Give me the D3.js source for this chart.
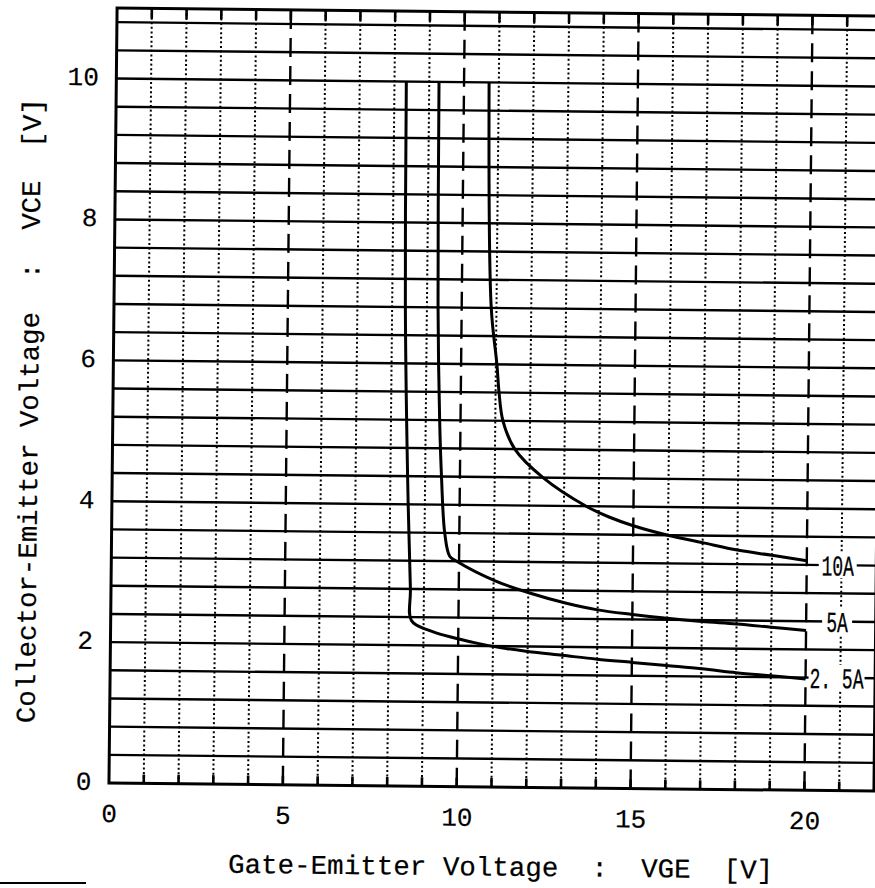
<!DOCTYPE html>
<html><head><meta charset="utf-8">
<script src="https://cdn.jsdelivr.net/npm/d3@7"></script>
<style>html,body{margin:0;padding:0;background:#fff;}svg{display:block;}</style>
</head><body>
<svg id="chart" width="875" height="888"></svg>
<script>
// ---- data ----
const xTicks = [0, 5, 10, 15, 20];
const yTicks = [0, 2, 4, 6, 8, 10];
const seriesLabels = ["10A", "5A", "2. 5A"];
const labelLevels = [3.2, 2.4, 1.6];

const vge10A = [10.72, 10.85, 11.03, 11.10, 11.22, 11.57, 12.39, 13.64, 14.3, 15.0, 16.0, 17.0, 18.0, 19.0, 20.0];
const vce10A = [10.0, 6.8, 6.0, 5.6, 5.2, 4.8, 4.4, 4.0, 3.85, 3.73, 3.6, 3.5, 3.4, 3.33, 3.26];

const vge5A = [9.28, 9.32, 9.40, 9.47, 9.58, 9.73, 9.93, 11.08, 12.04, 13.1, 14.0, 15.0, 16.0, 17.0, 18.0, 19.0, 20.0];
const vce5A = [10.0, 6.8, 5.2, 4.4, 3.6, 3.27, 3.2, 2.92, 2.76, 2.62, 2.53, 2.47, 2.42, 2.38, 2.35, 2.31, 2.27];

const vge2p5A = [8.34, 8.38, 8.52, 8.61, 8.65, 9.18, 10.43, 11.2, 12.0, 13.0, 14.0, 15.0, 16.0, 17.0, 18.0, 19.0, 20.0];
const vce2p5A = [10.0, 6.8, 4.0, 2.8, 2.35, 2.21, 2.05, 1.98, 1.93, 1.88, 1.83, 1.79, 1.75, 1.71, 1.66, 1.62, 1.58];

const xTitle = "Gate-Emitter Voltage  :  VGE  [V]";
const yTitle = "Collector-Emitter Voltage  :  VCE  [V]";

// ---- drawing ----
const FONT = "'Liberation Mono', 'DejaVu Sans Mono', monospace";
const svg = d3.select("#chart");
svg.append("rect").attr("width", 875).attr("height", 888).attr("fill", "#fff");
const g = svg.append("g").attr("transform", "rotate(0.6,490,400)");

const x = d3.scaleLinear().domain([0, 22]).range([113, 878]);
const y = d3.scaleLinear().domain([0, 11]).range([787, 12]);

// horizontal grid every 0.4 V
const hLevels = d3.range(1, 28).map(i => Math.round(i * 4) / 10);
g.append("g").selectAll("line").data(hLevels).join("line")
  .attr("x1", x(0)).attr("x2", x(22))
  .attr("y1", d => y(d)).attr("y2", d => y(d))
  .attr("stroke", "#000").attr("stroke-width", 2.4);

// vertical grid every 1 V
const vLevels = d3.range(1, 22);
g.append("g").selectAll("line").data(vLevels).join("line")
  .attr("x1", d => x(d)).attr("x2", d => x(d))
  .attr("y1", y(11)).attr("y2", y(0))
  .attr("stroke", "#000")
  .attr("stroke-width", d => d % 5 === 0 ? 2.4 : 2)
  .attr("stroke-dasharray", d => d % 5 === 0 ? "19,9" : "2,2.6");

// ticks top & bottom
g.append("g").selectAll("line").data(vLevels).join("line")
  .attr("x1", d => x(d)).attr("x2", d => x(d))
  .attr("y1", y(0)).attr("y2", y(0) - 9)
  .attr("stroke", "#000").attr("stroke-width", 2.6);
g.append("g").selectAll("line").data(vLevels).join("line")
  .attr("x1", d => x(d)).attr("x2", d => x(d))
  .attr("y1", y(11)).attr("y2", y(11) + 10)
  .attr("stroke", "#000").attr("stroke-width", 2.6);

// frame
g.append("rect")
  .attr("x", x(0)).attr("y", y(11))
  .attr("width", x(22) - x(0)).attr("height", y(0) - y(11))
  .attr("fill", "none").attr("stroke", "#000").attr("stroke-width", 3);

// curves
const line = d3.line().x(d => x(d[0])).y(d => y(d[1])).curve(d3.curveCatmullRom.alpha(0.5));
const curves = [
  d3.zip(vge10A, vce10A),
  d3.zip(vge5A, vce5A),
  d3.zip(vge2p5A, vce2p5A)
];
g.append("g").selectAll("path").data(curves).join("path")
  .attr("d", line).attr("fill", "none")
  .attr("stroke", "#000").attr("stroke-width", 3).attr("stroke-linejoin", "round");

// curve labels with white backgrounds on their grid line
const lab = g.append("g");
const labW = [38, 30, 56];
seriesLabels.forEach((t, i) => {
  const cx = x(20) + 31, cy = y(labelLevels[i]);
  lab.append("rect").attr("x", cx - labW[i] / 2).attr("y", cy - 13)
    .attr("width", labW[i]).attr("height", 26).attr("fill", "#fff");
  lab.append("g").attr("transform", `translate(${cx},${cy}) scale(1,1.6)`)
    .append("text").attr("dy", "0.36em")
    .attr("text-anchor", "middle").attr("font-family", FONT).attr("font-size", 18)
    .attr("stroke", "#000").attr("stroke-width", 0.2)
    .style("white-space", "pre").text(t);
});

// axes (labels only)
const xAxis = g.append("g").attr("transform", `translate(0,${y(0)})`)
  .call(d3.axisBottom(x).tickValues(xTicks).tickSize(0).tickPadding(20.5).tickFormat(d3.format("d")));
const yAxis = g.append("g").attr("transform", `translate(${x(0)},0)`)
  .call(d3.axisLeft(y).tickValues(yTicks).tickSize(0).tickPadding(17.5).tickFormat(d3.format("d")));
[xAxis, yAxis].forEach(a => {
  a.select(".domain").remove();
  a.selectAll("text").attr("font-family", FONT).attr("font-size", 26)
    .attr("fill", "#000").attr("stroke", "#000").attr("stroke-width", 0.2);
});
yAxis.selectAll("text").attr("dy", "0.25em");

// titles
g.append("text").attr("x", 505.5).attr("y", 875.5)
  .attr("text-anchor", "middle").attr("font-family", FONT).attr("font-size", 27)
  .attr("stroke", "#000").attr("stroke-width", 0.2)
  .attr("textLength", 545).attr("lengthAdjust", "spacingAndGlyphs")
  .style("white-space", "pre").text(xTitle);
g.append("text").attr("transform", "translate(38,415.5) rotate(-90)")
  .attr("text-anchor", "middle").attr("font-family", FONT).attr("font-size", 27)
  .attr("stroke", "#000").attr("stroke-width", 0.2)
  .attr("textLength", 625).attr("lengthAdjust", "spacingAndGlyphs")
  .style("white-space", "pre").text(yTitle);

// scan edge mark bottom-left
svg.append("line").attr("x1", 0).attr("x2", 86).attr("y1", 883).attr("y2", 883)
  .attr("stroke", "#000").attr("stroke-width", 2);
</script>
</body></html>
